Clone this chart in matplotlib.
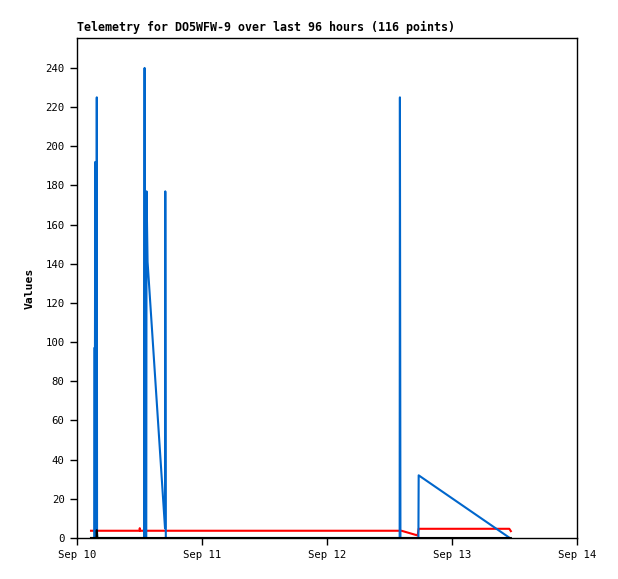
import datetime as dt
import matplotlib
matplotlib.use('Agg')
import matplotlib.pyplot as plt
import matplotlib.dates as mdates

# hours after Sep 10 00:00
start = dt.datetime(2023, 9, 10)

blue_hours = [2.69, 3.3, 3.32, 3.45, 3.5, 3.75, 3.8, 3.85, 12.9, 12.98, 13.02, 13.3, 13.35, 13.55,
              16.9, 16.95, 17.05, 61.95, 62.0, 62.1, 65.55, 65.6, 83.1]
blue_vals = [0, 0, 97, 97, 192, 0, 225, 0, 0, 240, 0, 0, 177, 141,
             5, 177, 0, 0, 225, 0, 0, 32, 0]

red_hours = [2.69, 12.0, 12.05, 12.15, 62.3, 65.4, 65.6, 83.0, 83.3]
red_vals = [3.7, 3.7, 5.0, 3.7, 3.7, 1.3, 4.7, 4.7, 3.5]

black_hours = [2.69, 3.75, 3.8, 3.9, 83.3]
black_vals = [0, 0, 4, 0, 0]

yticks = list(range(0, 241, 20))


def to_dates(hours):
    return [start + dt.timedelta(hours=h) for h in hours]


fig = plt.figure(figsize=(6.18, 5.79), dpi=100)
ax = fig.add_axes([77 / 618, 41 / 579, 500 / 618, 500 / 579])

ax.plot(to_dates(red_hours), red_vals, color='#ff0000', lw=1.5, zorder=2)
ax.plot(to_dates(blue_hours), blue_vals, color='#0066cc', lw=1.5, zorder=3)
ax.plot(to_dates(black_hours), black_vals, color='black', lw=1.5, zorder=4)

ax.set_xlim(start, start + dt.timedelta(days=4))
ax.set_ylim(0, 255.3)
ax.xaxis.set_major_locator(mdates.DayLocator())
ax.xaxis.set_major_formatter(mdates.DateFormatter('%b %d'))
ax.set_yticks(yticks)

mono = 'DejaVu Sans Mono'
for lab in ax.get_xticklabels() + ax.get_yticklabels():
    lab.set_fontfamily(mono)
    lab.set_fontsize(7.7)
ax.tick_params(direction='out', length=5, width=1, pad=4)
for s in ax.spines.values():
    s.set_linewidth(1)

ax.set_ylabel('Values', fontfamily=mono, fontweight='bold', fontsize=8.2, labelpad=8)
fig.text(77 / 618, 1 - 31 / 579, 'Telemetry for DO5WFW-9 over last 96 hours (116 points)',
         fontfamily=mono, fontweight='bold', fontsize=8.4, ha='left', va='baseline')

fig.savefig('out.png', dpi=100)
